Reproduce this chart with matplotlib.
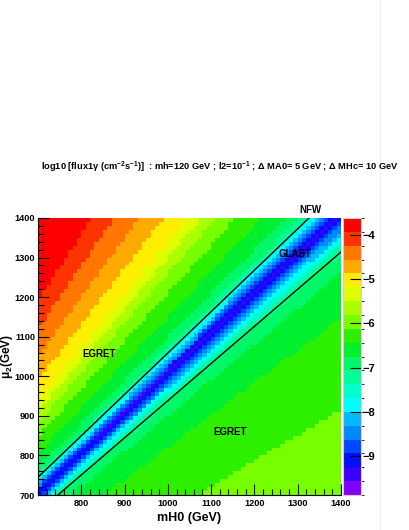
import numpy as np
import matplotlib
matplotlib.use("Agg")
import matplotlib.pyplot as plt
from matplotlib.colors import ListedColormap, BoundaryNorm
from matplotlib.lines import Line2D

plt.rcParams['font.family'] = ['Liberation Sans', 'DejaVu Sans']
plt.rcParams['font.weight'] = 'bold'
plt.rcParams['mathtext.fontset'] = 'custom'
plt.rcParams['mathtext.rm'] = 'Liberation Sans:bold'
plt.rcParams['mathtext.default'] = 'rm'

# binning of the 2D histogram (10 GeV bins)
mh0_edges = np.arange(700, 1401, 10)
mu2_edges = np.arange(700, 1401, 10)

# z range of the palette and the 20 contour colours (bottom -> top)
z_min, z_max = -9.89, -3.61
palette = ['#7f00ff', '#3a00ff', '#0010ff', '#0048ff', '#0088ff', '#00bbff',
           '#00ffff', '#00ffcc', '#00ff99', '#00f766', '#00f030', '#2cf000',
           '#77ff00', '#aaff00', '#ddff00', '#ffee00', '#ffaa00', '#ff7700',
           '#ff3300', '#ff0000']

# colour band boundaries, as mu2/mH0 ratio
ratio_edges = [0.655, 0.82, 0.90, 0.935, 0.95, 0.96, 0.97, 0.978, 0.986,
               0.994, 1.004, 1.012, 1.020, 1.028, 1.036, 1.044, 1.052, 1.060,
               1.072, 1.10, 1.15, 1.21, 1.26, 1.30, 1.34, 1.415, 1.50, 1.60,
               1.70]
band_level = [12, 11, 10, 9, 8, 7, 6, 5, 4, 3, 2, 1, 2, 3, 4, 5, 6, 7, 8, 9,
              10, 11, 12, 13, 14, 15, 16, 17, 18, 19]

# the two black lines (mH0, mu2 end points)
upper_line_x = [700, 1326]
upper_line_y = [745, 1400]
lower_line_x = [746, 1400]
lower_line_y = [700, 1314]

labels = ['NFW', 'GLAST', 'EGRET', 'EGRET']
label_x = [1330, 1293, 841, 1143]
label_y = [1419, 1309, 1056, 859]

# ---- build histogram contents ----
bounds = np.linspace(z_min, z_max, len(palette) + 1)
level_val = 0.5 * (bounds[:-1] + bounds[1:])
xc = 0.5 * (mh0_edges[:-1] + mh0_edges[1:])
yc = 0.5 * (mu2_edges[:-1] + mu2_edges[1:])
X, Y = np.meshgrid(xc, yc)
idx = np.digitize(Y / X, ratio_edges)
Z = level_val[np.array(band_level)[idx]]

cmap = ListedColormap(palette)
norm = BoundaryNorm(bounds, cmap.N)

fig = plt.figure(figsize=(4.1, 5.3), dpi=100)
ax = fig.add_axes([0.0927, 0.066, 0.739, 0.5227])
cax = fig.add_axes([0.8366, 0.066, 0.0439, 0.5227])

mesh = ax.pcolormesh(mh0_edges, mu2_edges, Z, cmap=cmap, norm=norm)
ax.plot(upper_line_x, upper_line_y, color='black', lw=1.0)
ax.plot(lower_line_x, lower_line_y, color='black', lw=1.0)
for t, x, y in zip(labels, label_x, label_y):
    ax.text(x, y, t, ha='center', va='center', fontsize=7, fontweight='bold',
            clip_on=False)

ax.set_xlim(700, 1400)
ax.set_ylim(700, 1400)
ax.set_xticks(np.arange(800, 1401, 100))
ax.set_yticks(np.arange(700, 1401, 100))
ax.set_xticks(np.arange(700, 1401, 20), minor=True)
ax.set_yticks(np.arange(700, 1401, 20), minor=True)
ax.tick_params(which='both', direction='in', top=False, right=False,
               labelsize=6.6, width=0.8)
ax.tick_params(which='major', length=8)
ax.tick_params(which='minor', length=4)
ax.tick_params(axis='x', pad=3)
ax.tick_params(axis='y', pad=2)
for lab in ax.get_xticklabels() + ax.get_yticklabels():
    lab.set_fontweight('bold')
ax.spines['top'].set_visible(False)
ax.spines['right'].set_visible(False)
ax.set_xlabel('mH0 (GeV)', fontsize=9, fontweight='bold', labelpad=3)
fig.text(0.017, 0.328, r'$\mathregular{\mu_2}$(GeV)', rotation=90,
         ha='center', va='center', fontsize=8.5, fontweight='bold')

cb = fig.colorbar(mesh, cax=cax, ticks=[-4, -5, -6, -7, -8, -9])
cb.outline.set_edgecolor('#e0c8c8')
cb.outline.set_linewidth(0.8)
cax.tick_params(direction='in', length=8, width=0.8, labelsize=8, pad=1)
for lab in cax.get_yticklabels():
    lab.set_fontweight('bold')

fig.text(0.535, 0.685,
         r'log10 [flux1$\gamma$ (cm$^{-2}$s$^{-1}$)]  : mh=120 GeV ; l2=10$^{-1}$ ;'
         r' $\Delta$ MA0= 5 GeV ; $\Delta$ MHc= 10 GeV',
         ha='center', va='center', fontsize=6.7, fontweight='bold')

fig.add_artist(Line2D([0.927, 0.927], [0, 1], color='#f0f0f0', lw=0.8))

fig.savefig('out.png', dpi=100)
